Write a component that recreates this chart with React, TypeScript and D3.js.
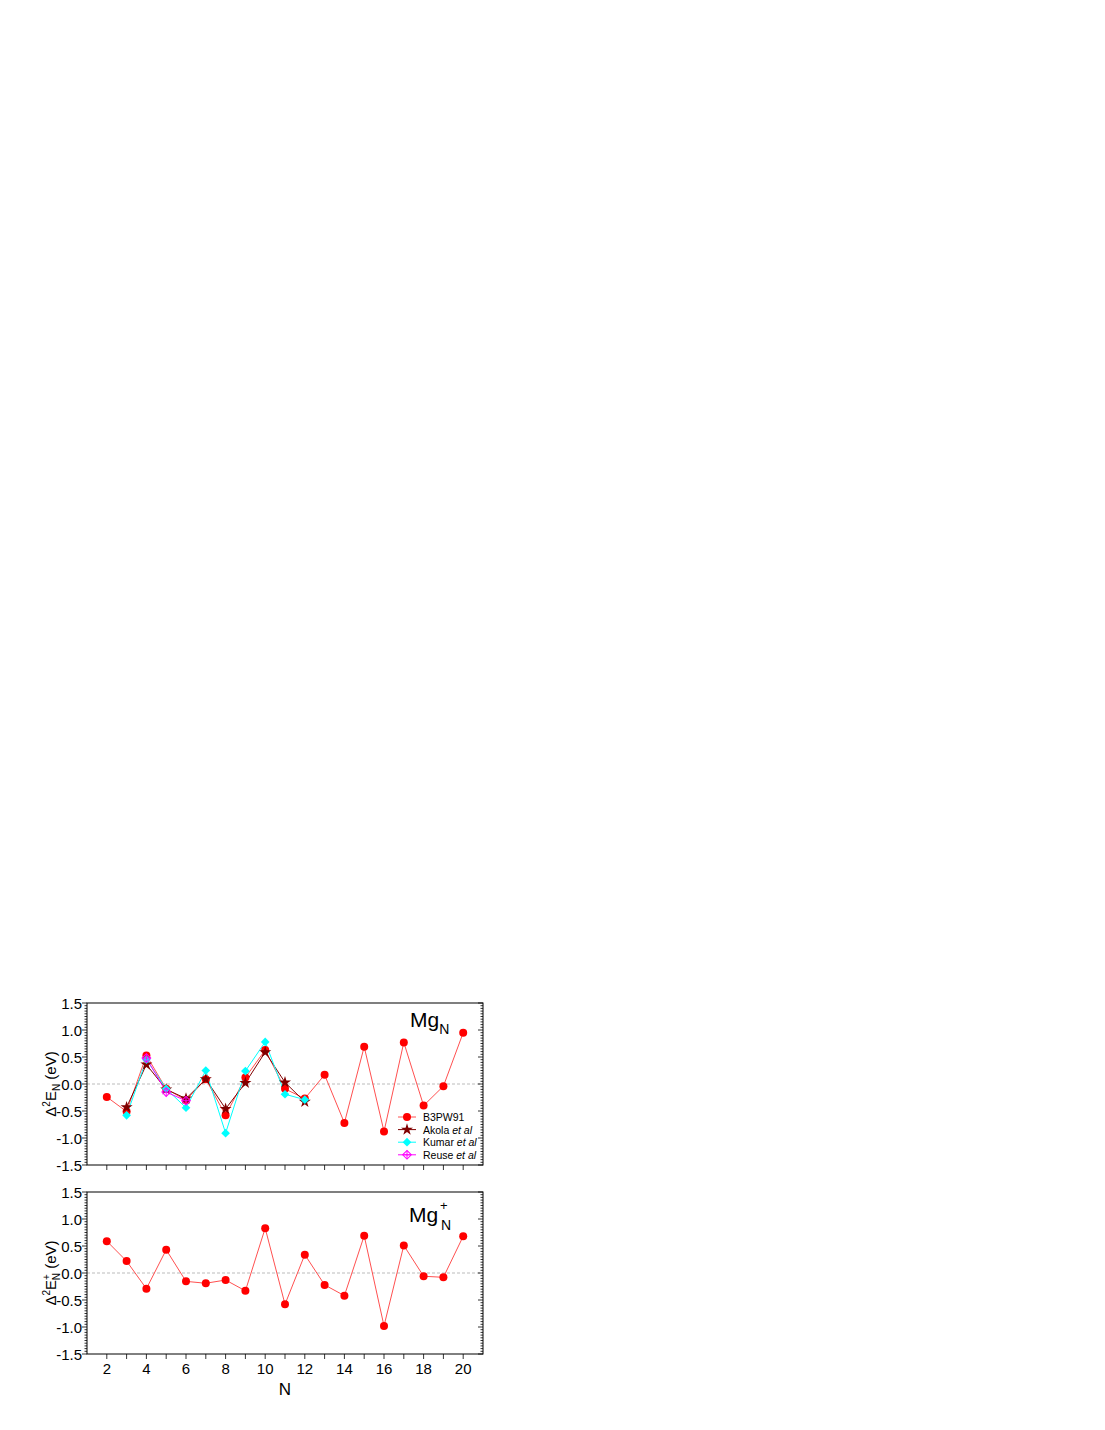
import React from "react";
import * as d3 from "d3";

const N_ALL = [2, 3, 4, 5, 6, 7, 8, 9, 10, 11, 12, 13, 14, 15, 16, 17, 18, 19, 20];
const B3PW91_NEUTRAL = [-0.24, -0.51, 0.53, -0.09, -0.30, 0.09, -0.58, 0.12, 0.63, -0.09, -0.27, 0.17, -0.72, 0.69, -0.88, 0.77, -0.40, -0.04, 0.95];
const N_REF = [3, 4, 5, 6, 7, 8, 9, 10, 11, 12];
const AKOLA = [-0.43, 0.36, -0.10, -0.27, 0.09, -0.46, 0.02, 0.59, 0.03, -0.33];
const KUMAR = [-0.58, 0.45, -0.09, -0.44, 0.25, -0.91, 0.24, 0.78, -0.19, -0.29];
const N_REUSE = [4, 5, 6];
const REUSE = [0.48, -0.15, -0.31];
const B3PW91_CATION = [0.59, 0.22, -0.29, 0.43, -0.155, -0.19, -0.13, -0.33, 0.83, -0.58, 0.34, -0.22, -0.42, 0.69, -0.98, 0.51, -0.06, -0.08, 0.68];

const Y_TICKS = [-1.5, -1.0, -0.5, 0.0, 0.5, 1.0, 1.5];
const X_LABELS = [2, 4, 6, 8, 10, 12, 14, 16, 18, 20];

const FONT = "Arial, 'Liberation Sans', sans-serif";
const RED = "#ff0000";
const RED_LINE = "#ff5050";
const DARK = "#800000";
const CYAN = "#00ffff";
const MAG = "#ff00ff";

const x = d3.scaleLinear().domain([1, 21]).range([87, 483]);
const yTop = d3.scaleLinear().domain([-1.5, 1.5]).range([1165, 1003]);
const yBot = d3.scaleLinear().domain([-1.5, 1.5]).range([1354, 1192]);

const minorY = d3.range(-1.5, 1.5001, 0.05).map((v) => Math.round(v * 100) / 100);
const xInts = d3.range(2, 21);

function Frame({ y, showLabels }: { y: d3.ScaleLinear<number, number>; showLabels: boolean }) {
  const [x0, x1] = x.range();
  const [yb, yt] = y.range();
  return (
    <g>
      <line x1={x0} x2={x1} y1={y(0)} y2={y(0)} stroke="#aaa" strokeWidth={0.8} strokeDasharray="3,2" />
      <rect x={x0} y={yt} width={x1 - x0} height={yb - yt} fill="none" stroke="#000" strokeWidth={1} />
      {minorY.map((v, i) => {
        const major = Y_TICKS.some((t) => Math.abs(t - v) < 1e-6);
        const len = major ? 5 : 2.5;
        return (
          <g key={i}>
            <line x1={x0 - len} x2={x0} y1={y(v)} y2={y(v)} stroke="#000" strokeWidth={0.8} />
            <line x1={x1} x2={x1 - len} y1={y(v)} y2={y(v)} stroke="#000" strokeWidth={0.8} />
          </g>
        );
      })}
      {Y_TICKS.map((t) => (
        <text key={t} x={x0 - 5} y={y(t) + 5.5} textAnchor="end" fontSize={15} fontFamily={FONT}>
          {t.toFixed(1)}
        </text>
      ))}
      {xInts.map((n) => (
        <line key={n} x1={x(n)} x2={x(n)} y1={yb} y2={yb + 5} stroke="#000" strokeWidth={0.8} />
      ))}
      {showLabels &&
        X_LABELS.map((n) => (
          <text key={n} x={x(n)} y={yb + 20} textAnchor="middle" fontSize={15} fontFamily={FONT}>
            {n}
          </text>
        ))}
    </g>
  );
}

const line = (xs: number[], ys: number[], y: d3.ScaleLinear<number, number>) =>
  d3.line<number>().x((_, i) => x(xs[i])).y((v) => y(v))(ys) || "";

const starPath = d3.symbol().type(d3.symbolStar).size(45)() || "";
const diamondPath = d3.symbol().type(d3.symbolSquare).size(38)() || "";

export default function App() {
  return (
    <svg width={1105} height={1430} style={{ position: "absolute", left: 0, top: 0 }}>
      <rect width={1105} height={1430} fill="#fff" />
      {/* Top panel */}
      <Frame y={yTop} showLabels={false} />
      <path d={line(N_ALL, B3PW91_NEUTRAL, yTop)} fill="none" stroke={RED_LINE} strokeWidth={1} />
      <path d={line(N_REF, AKOLA, yTop)} fill="none" stroke={DARK} strokeWidth={1} />
      <path d={line(N_REF, KUMAR, yTop)} fill="none" stroke={CYAN} strokeWidth={1} />
      <path d={line(N_REUSE, REUSE, yTop)} fill="none" stroke={MAG} strokeWidth={1} />
      {B3PW91_NEUTRAL.map((v, i) => (
        <circle key={"r" + i} cx={x(N_ALL[i])} cy={yTop(v)} r={4} fill={RED} />
      ))}
      {AKOLA.map((v, i) => (
        <path key={"a" + i} d={starPath} transform={`translate(${x(N_REF[i])},${yTop(v)})`} fill={DARK} />
      ))}
      {KUMAR.map((v, i) => (
        <path key={"k" + i} d={diamondPath} transform={`translate(${x(N_REF[i])},${yTop(v)}) rotate(45)`} fill={CYAN} />
      ))}
      {REUSE.map((v, i) => (
        <g key={"u" + i} transform={`translate(${x(N_REUSE[i])},${yTop(v)})`}>
          <path d={diamondPath} transform="rotate(45)" fill="none" stroke={MAG} strokeWidth={1} />
          <line x1={-4} x2={4} y1={0} y2={0} stroke={MAG} strokeWidth={1} />
          <line x1={0} x2={0} y1={-4} y2={4} stroke={MAG} strokeWidth={1} />
        </g>
      ))}
      {/* Legend */}
      {[
        { label: "B3PW91", color: RED_LINE, kind: "circle" },
        { label: "Akola", color: DARK, kind: "star" },
        { label: "Kumar", color: CYAN, kind: "diamond" },
        { label: "Reuse", color: MAG, kind: "open" },
      ].map((e, i) => {
        const ly = 1117 + i * 12.6;
        return (
          <g key={e.label}>
            <line x1={398} x2={416} y1={ly} y2={ly} stroke={e.color} strokeWidth={1} />
            {e.kind === "circle" && <circle cx={407} cy={ly} r={4} fill={RED} />}
            {e.kind === "star" && <path d={starPath} transform={`translate(407,${ly})`} fill={DARK} />}
            {e.kind === "diamond" && <path d={diamondPath} transform={`translate(407,${ly}) rotate(45)`} fill={CYAN} />}
            {e.kind === "open" && (
              <g transform={`translate(407,${ly})`}>
                <path d={diamondPath} transform="rotate(45)" fill="none" stroke={MAG} />
                <line x1={-4} x2={4} y1={0} y2={0} stroke={MAG} />
                <line x1={0} x2={0} y1={-4} y2={4} stroke={MAG} />
              </g>
            )}
            <text x={423} y={ly + 4} fontSize={10.5} fontFamily={FONT}>
              {e.label}
              {i > 0 && <tspan fontStyle="italic"> et al</tspan>}
            </text>
          </g>
        );
      })}
      <text x={410} y={1027} fontSize={21} fontFamily={FONT}>
        Mg<tspan fontSize={14} dy={7}>N</tspan>
      </text>
      <text transform={`translate(56,${yTop(0)}) rotate(-90)`} textAnchor="middle" fontSize={15} fontFamily={FONT}>
        Δ<tspan fontSize={10} dy={-6}>2</tspan>
        <tspan dy={6}>E</tspan>
        <tspan fontSize={10} dy={4}>N</tspan>
        <tspan dy={-4}> (eV)</tspan>
      </text>

      {/* Bottom panel */}
      <Frame y={yBot} showLabels={true} />
      <path d={line(N_ALL, B3PW91_CATION, yBot)} fill="none" stroke={RED_LINE} strokeWidth={1} />
      {B3PW91_CATION.map((v, i) => (
        <circle key={"c" + i} cx={x(N_ALL[i])} cy={yBot(v)} r={4} fill={RED} />
      ))}
      <text x={409} y={1222} fontSize={21} fontFamily={FONT}>
        Mg
      </text>
      <text x={440} y={1210} fontSize={13} fontFamily={FONT}>+</text>
      <text x={441} y={1230} fontSize={14} fontFamily={FONT}>N</text>
      <text transform={`translate(56,${yBot(0)}) rotate(-90)`} textAnchor="middle" fontSize={15} fontFamily={FONT}>
        Δ<tspan fontSize={10} dy={-6}>2</tspan>
        <tspan dy={6}>E</tspan>
        <tspan fontSize={10} dy={-6}>+</tspan>
        <tspan fontSize={10} dy={10} dx={-6}>N</tspan>
        <tspan dy={-4}> (eV)</tspan>
      </text>
      <text x={x(11)} y={1395} textAnchor="middle" fontSize={17} fontFamily={FONT}>
        N
      </text>
    </svg>
  );
}
